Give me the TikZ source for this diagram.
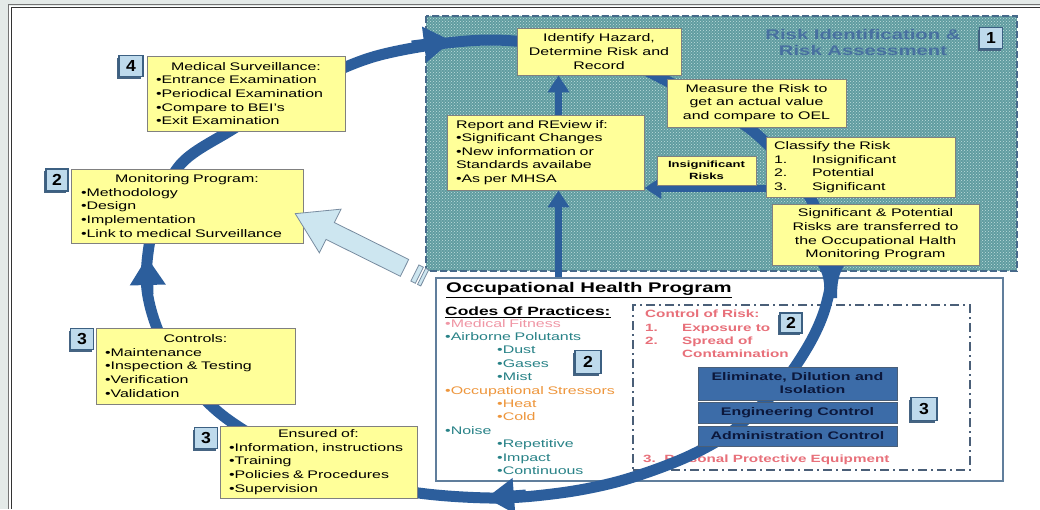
\documentclass[tikz,border=0pt]{standalone}
\usepackage{fontspec}
\setmainfont{Liberation Sans}[FakeStretch=1.45]
\newfontfamily\badgefont{Liberation Sans}[FakeStretch=1.1]
\usetikzlibrary{arrows.meta,patterns,shadows,shapes.arrows,calc}
\definecolor{bandblue}{RGB}{44,94,156}
\definecolor{yel}{RGB}{255,255,153}
\definecolor{yelborder}{RGB}{128,128,128}
\definecolor{teal1}{RGB}{96,156,160}
\definecolor{teal2}{RGB}{192,222,222}
\definecolor{riskborder}{RGB}{70,105,138}
\definecolor{titleblue}{RGB}{72,112,160}
\definecolor{badgefill}{RGB}{190,218,236}
\definecolor{badgedraw}{RGB}{60,96,130}
\definecolor{badgeshadow}{RGB}{70,100,130}
\definecolor{ohpborder}{RGB}{96,126,156}
\definecolor{ctrlborder}{RGB}{74,95,120}
\definecolor{ctrlblue}{RGB}{60,108,168}
\definecolor{ctrltext}{RGB}{12,24,60}
\definecolor{pinkred}{RGB}{232,112,122}
\definecolor{lightpink}{RGB}{240,150,165}
\definecolor{tealtext}{RGB}{40,130,135}
\definecolor{orangetext}{RGB}{238,150,60}
\definecolor{framegrey}{RGB}{228,234,232}
\definecolor{hollowfill}{RGB}{205,230,240}
\definecolor{hollowdraw}{RGB}{120,140,160}
\begin{document}
\begin{tikzpicture}[x=1pt,y=-1pt,
  every node/.style={font=\fontsize{11}{13.6}\selectfont, inner sep=0pt},
  ybox/.style={draw=yelborder, fill=yel, line width=0.9pt, inner xsep=9pt, inner ysep=2pt},
  badge/.style={draw=badgedraw, fill=badgefill, line width=1.1pt,
    font=\badgefont\bfseries\fontsize{16}{16}\selectfont,
    minimum width=23pt, minimum height=21pt,
    drop shadow={shadow xshift=-2pt, shadow yshift=-2pt, fill=badgeshadow, opacity=1}},
  band/.style={draw=bandblue, line width=11pt},
  bandtip/.style={draw=bandblue, line width=11pt, -{Triangle[length=28pt,width=34pt]}},
  bluearr/.style={draw=bandblue, line width=7pt, -{Triangle[length=17pt,width=21pt]}},
  ctrlbox/.style={draw=ctrlborder, fill=ctrlblue, line width=0.6pt, text=ctrltext,
    font=\bfseries\fontsize{11}{13}\selectfont, align=center, minimum width=199pt},
  pinktext/.style={text=pinkred, font=\bfseries\fontsize{10.5}{13}\selectfont, anchor=base west},
  hollow/.style={draw=hollowdraw, fill=hollowfill, line width=0.8pt}
]
\useasboundingbox (0,0) rectangle (1040,509);
% frame
\fill[framegrey] (0,0) rectangle (1040,509);
\fill[white] (9,6) rectangle (1040,509);
\draw[line width=1.2pt, color=black!55] (8.5,509) -- (8.5,4.8) -- (1040,4.8);
\draw[line width=1.2pt, color=black!80] (11.5,509) -- (11.5,7.5) -- (1040,7.5);

% risk identification area
\node[minimum width=591pt, minimum height=255pt] (risk) at (721.5,143.5) {};
\fill[teal1] (risk.north west) rectangle (risk.south east);
\fill[pattern=crosshatch dots, pattern color=teal2] (risk.north west) rectangle (risk.south east);
\draw[draw=riskborder, line width=2pt, dash pattern=on 7pt off 3pt] (risk.north west) rectangle (risk.south east);
\node[text=titleblue, font=\bfseries\fontsize{14}{16}\selectfont, align=center] (risktitle) at (863,42) {Risk Identification \&\\Risk Assessment};

% occupational health program box
\node[draw=ohpborder, fill=white, line width=2.2pt, minimum width=567pt, minimum height=203pt] (ohp) at (719.5,379.5) {};
\node[anchor=west, font=\bfseries\fontsize{14}{16}\selectfont] (ohptitle) at (446,290) {\underline{Occupational Health Program}};
\node[anchor=west, font=\bfseries\fontsize{12}{14}\selectfont] (codes) at (445,312) {\underline{Codes Of Practices:}};
\node[anchor=base west, text width=185pt, align=left, font=\fontsize{11}{13.4}\selectfont] (codeslist) at (445,327) {%
\textcolor{lightpink}{•Medical Fitness}\\
\textcolor{tealtext}{•Airborne Polutants}\\
\hspace*{52pt}\textcolor{tealtext}{•Dust}\\
\hspace*{52pt}\textcolor{tealtext}{•Gases}\\
\hspace*{52pt}\textcolor{tealtext}{•Mist}\\
\textcolor{orangetext}{•Occupational Stressors}\\
\hspace*{52pt}\textcolor{orangetext}{•Heat}\\
\hspace*{52pt}\textcolor{orangetext}{•Cold}\\
\textcolor{tealtext}{•Noise}\\
\hspace*{52pt}\textcolor{tealtext}{•Repetitive}\\
\hspace*{52pt}\textcolor{tealtext}{•Impact}\\
\hspace*{52pt}\textcolor{tealtext}{•Continuous}};

% control of risk
\node[draw=ctrlborder, line width=1.5pt, dash pattern=on 9pt off 4pt on 2pt off 4pt, minimum width=337pt, minimum height=165pt] (ctrl) at (801.5,387.5) {};
\node[pinktext] (ctrltitle) at (645,317) {Control of Risk:};
\node[pinktext] (ctrlone) at (645,331) {\makebox[37pt][l]{1.}Exposure to};
\node[pinktext] (ctrltwo) at (645,344) {\makebox[37pt][l]{2.}Spread of};
\node[pinktext] (ctrlcont) at (682,357) {Contamination};
\node[pinktext] (ppe) at (643,462) {3.\ \ Personal Protective Equipment};

% big circular band
\draw[band] plot[smooth cycle, tension=0.55] coordinates {
 (490,40) (600,54) (663,79) (754,132) (812,201) (830,268) (826,305) (811,341)
 (784,382) (753,413) (724,437) (680,460) (620,481) (560,493) (490,498) (400,490)
 (305,462) (222,415) (170,355) (147,290) (154,222) (180,165) (233,129) (300,89) (380,55)};
\coordinate (topa) at (412,46);   \coordinate (topb) at (452,41);
\coordinate (bota) at (526,495);  \coordinate (botb) at (486,498);
\coordinate (lfta) at (148,294);  \coordinate (lftb) at (147,257);
\draw[bandtip] (topa) -- (topb);
\draw[bandtip] (bota) -- (botb);
\draw[bandtip] (lfta) -- (lftb);
% flared band under the significant-risks box
\fill[bandblue] (815,262) .. controls (824,272) and (825,284) .. (824,298)
  -- (837,298) .. controls (837,284) and (838,272) .. (847,262) -- cycle;

% control measures (drawn over the band)
\node[ctrlbox, minimum height=33pt] (elim) at (797.5,383.5) {Eliminate, Dilution and\\\hspace*{30pt}Isolation};
\node[ctrlbox, minimum height=21pt] (eng) at (797.5,412.5) {Engineering Control};
\node[ctrlbox, minimum height=20pt] (adm) at (797.5,436) {Administration Control};

% risk boxes
\node[ybox, minimum width=164pt, minimum height=47pt, align=center] (idn) at (599,51.5) {Identify Hazard,\\Determine Risk and\\Record};
\node[ybox, minimum width=179pt, minimum height=48pt, align=center] (meas) at (756.5,103) {Measure the Risk to\\get an actual value\\and compare to OEL};
\node[ybox, minimum width=197pt, minimum height=75pt, text width=179pt, align=left] (rep) at (545.5,152.5) {Report and REview if:\\•Significant Changes\\•New information or\\Standards availabe\\•As per MHSA};
\coordinate (arry) at (0,188);
\draw[bluearr] ([xshift=13pt]rep.north) -- ([xshift=13pt]rep.north |- idn.south);
\draw[bluearr] ([xshift=13pt]rep.south |- ohp.north) -- ([xshift=13pt]rep.south);
\node[ybox, minimum width=189pt, minimum height=60pt, text width=173pt, align=left, inner xsep=8pt] (cls) at (860.5,167) {Classify the Risk\\\makebox[38pt][l]{1.}Insignificant\\\makebox[38pt][l]{2.}Potential\\\makebox[38pt][l]{3.}Significant};
\draw[bluearr] (cls.west |- arry) -- (rep.east |- arry);
\node[ybox, minimum width=99pt, minimum height=29pt, align=center, font=\bfseries\fontsize{9}{12}\selectfont] (insig) at (706.5,170.5) {Insignificant\\Risks};
\node[ybox, minimum width=207pt, minimum height=61pt, align=center] (sig) at (875.5,234.5) {Significant \& Potential\\Risks are transferred to\\the Occupational Halth\\Monitoring Program};

% left boxes
\node[ybox, minimum width=198pt, minimum height=75pt, text width=180pt, align=left] (med) at (246,93.5) {\makebox[\hsize]{Medical Surveillance:}\\•Entrance Examination\\•Periodical Examination\\•Compare to BEI's\\•Exit Examination};
\node[ybox, minimum width=232pt, minimum height=74pt, text width=212pt, align=left] (mon) at (187,206) {\makebox[\hsize]{Monitoring Program:}\\•Methodology\\•Design\\•Implementation\\•Link to medical Surveillance};
\node[ybox, minimum width=199pt, minimum height=76pt, text width=181pt, align=left] (ctl) at (195.5,366) {\makebox[\hsize]{Controls:}\\•Maintenance\\•Inspection \& Testing\\•Verification\\•Validation};
\node[ybox, minimum width=197pt, minimum height=72pt, text width=179pt, align=left] (ens) at (318.5,462) {\makebox[\hsize]{Ensured of:}\\•Information, instructions\\•Training\\•Policies \& Procedures\\•Supervision};

% badges
\node[badge] (bone) at (991,38) {1};
\node[badge, minimum width=24pt] (bfour) at (131,66) {4};
\node[badge, minimum width=22pt, minimum height=22pt] (btwom) at (57,180) {2};
\node[badge] (bthreec) at (82,339) {3};
\node[badge] (bthreee) at (206,438) {3};
\node[badge, minimum width=26pt, minimum height=23pt] (btwocodes) at (588,362) {2};
\node[badge, minimum width=22pt, minimum height=20pt] (btwoctrl) at (791,323) {2};
\node[badge, minimum width=26pt, minimum height=23pt] (bthreectrl) at (924,409) {3};

% hollow arrow from program to monitoring
\coordinate (hatail) at (425,278);
\coordinate (hatip) at (302,217);
\path (hatail) -- (hatip)
  node[pos=0.556, sloped, allow upside down, single arrow, hollow, minimum height=122pt,
       inner xsep=0pt, inner ysep=9pt, single arrow head extend=15pt,
       single arrow tip angle=64, single arrow head indent=0pt] (harrow) {}
  node[pos=0.064, sloped, allow upside down, hollow, minimum width=5pt, minimum height=18pt] (hstripeone) {}
  node[pos=0.015, sloped, allow upside down, hollow, minimum width=3.5pt, minimum height=18pt] (hstripetwo) {};
\end{tikzpicture}
\end{document}
